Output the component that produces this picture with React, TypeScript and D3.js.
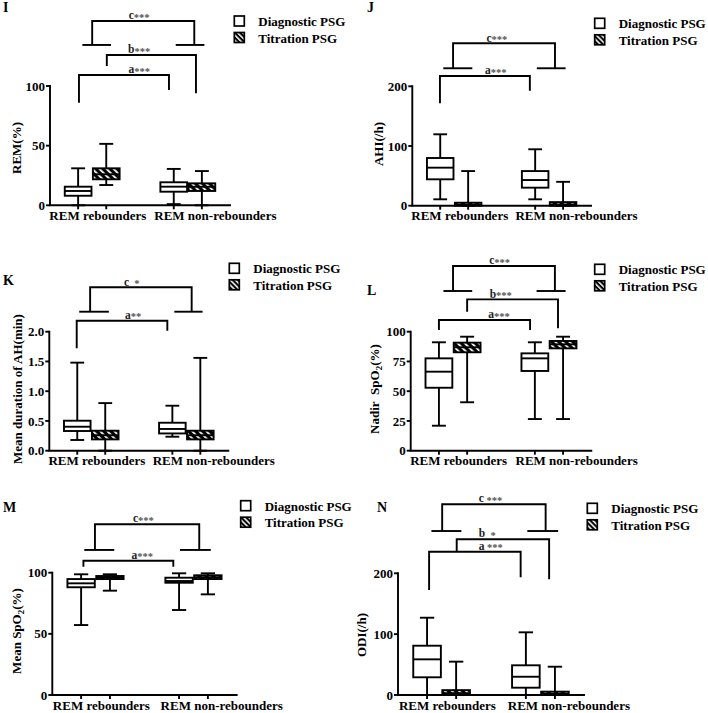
import React from "react";
import * as d3 from "d3";

// ---------- data ----------
const categories = ["REM rebounders", "REM non-rebounders"];
const seriesNames = ["Diagnostic PSG", "Titration PSG"];

// each box: [min, q1, median, q3, max]; order: Diag-reb, Titr-reb, Diag-non, Titr-non
const remStats = [
  [0, 8, 12, 15.6, 31],
  [17, 21.8, 26, 31, 51.5],
  [1, 11.4, 15.6, 19.3, 30.5],
  [0, 12, 15.5, 18.4, 28.7],
];
const ahiStats = [
  [10.7, 44.2, 63.7, 79.9, 119.6],
  [0, 0, 1.5, 5, 58],
  [10.7, 30.2, 43, 58, 94.5],
  [0, 0, 2, 6, 40],
];
const durationStats = [
  [0.18, 0.331, 0.403, 0.504, 1.48],
  [0, 0.19, 0.26, 0.336, 0.8],
  [0.235, 0.29, 0.365, 0.47, 0.756],
  [0, 0.19, 0.26, 0.336, 1.56],
];
const nadirStats = [
  [21, 52.9, 66.4, 77.6, 91.1],
  [40.7, 82.7, 86.9, 90.8, 95.8],
  [26.6, 67, 77.6, 81.8, 91.1],
  [26.6, 86, 89.4, 92.2, 95.8],
];
const meanSpo2Stats = [
  [57.2, 88.1, 91.3, 94.8, 98.7],
  [85.3, 94.8, 96, 97.3, 98.7],
  [69.5, 91.8, 93.2, 95.9, 99.5],
  [82.3, 94.8, 96.3, 97.9, 99.5],
];
const odiStats = [
  [0, 29.1, 58.6, 81, 127],
  [0, 0, 3, 8, 54.8],
  [0, 12, 30, 48.8, 103],
  [0, 0, 2, 5.5, 46.5],
];

const remTicks = [0, 50, 100];
const ahiTicks = [0, 100, 200];
const durationTicks = [0, 0.5, 1.0, 1.5, 2.0];
const nadirTicks = [0, 25, 50, 75, 100];
const meanSpo2Ticks = [0, 50, 100];
const odiTicks = [0, 100, 200];

const remSig = [["a", "***"], ["b", "***"], ["c", "***"]];
const ahiSig = [["a", "***"], ["c", "***"]];
const durationSig = [["a", "**"], ["c", "\u00A0\u00A0*"]];
const nadirSig = [["a", "***"], ["b", "***"], ["c", "***"]];
const meanSpo2Sig = [["a", "***"], ["c", "***"]];
const odiSig = [["a", "\u00A0***"], ["b", "\u00A0\u00A0*"], ["c", "\u00A0***"]];

// ---------- layout ----------
const FONT = "'Liberation Serif', 'Times New Roman', serif";
const positions = [1, 2, 4.4, 5.4];
const labelPos = [1.7, 5.88];
const BOX_W = 0.95;
const LW = 1.9;

type Bracket = {
  x1: number; x2: number; y: number; l1: number; l2: number; lx: number;
  bars?: number[][];
};

type PanelCfg = {
  ax: number; axEnd: number; y0: number; yTop: number; yMax: number;
  ticks: number[]; fmt: (v: number) => string;
  stats: number[][];
  sig: string[][];
  brackets: Bracket[];
  yLabel: React.ReactNode; ylx: number; yly: number;
  letter: string; lettx: number; letty: number;
  legX: number; legY: number;
};

const fmtInt = d3.format("d");
const fmt1 = d3.format(".1f");

function Panel({ c }: { c: PanelCfg }) {
  const x = d3.scaleLinear().domain([0, 6.4]).range([c.ax, c.axEnd]);
  const y = d3.scaleLinear().domain([0, c.yMax]).range([c.y0, c.yTop]);
  const bwPx = x(BOX_W) - x(0);
  const capW = bwPx * 0.52;
  return (
    <g>
      <text x={c.lettx} y={c.letty} fontSize={14} fontWeight="bold" fontFamily={FONT}>
        {c.letter}
      </text>
      <text
        transform={`translate(${c.ylx},${c.yly}) rotate(-90)`}
        textAnchor="middle"
        fontSize={13}
        fontWeight="bold"
        fontFamily={FONT}
      >
        {c.yLabel}
      </text>
      <path
        d={`M${c.ax},${y(c.yMax)}V${c.y0}H${c.axEnd}`}
        fill="none"
        stroke="#000"
        strokeWidth={LW}
        strokeLinecap="square"
      />
      {c.ticks.map((t) => (
        <g key={t}>
          <line x1={c.ax - 4} x2={c.ax} y1={y(t)} y2={y(t)} stroke="#000" strokeWidth={LW} />
          <text
            x={c.ax - 5}
            y={y(t)}
            dy="0.35em"
            textAnchor="end"
            fontSize={13}
            fontWeight="bold"
            fontFamily={FONT}
          >
            {c.fmt(t)}
          </text>
        </g>
      ))}
      {positions.map((p, i) => (
        <line key={i} x1={x(p)} x2={x(p)} y1={c.y0} y2={c.y0 + 4} stroke="#000" strokeWidth={LW} />
      ))}
      {categories.map((cat, i) => (
        <text
          key={cat}
          x={x(labelPos[i])}
          y={c.y0 + 14.5}
          textAnchor="middle"
          fontSize={13}
          fontWeight="bold"
          fontFamily={FONT}
        >
          {cat}
        </text>
      ))}
      {c.stats.map((s, i) => {
        const cx = x(positions[i]);
        const [mn, q1, md, q3, mx] = s;
        const hatched = i % 2 === 1;
        return (
          <g key={i}>
            <line x1={cx} x2={cx} y1={y(mn)} y2={y(q1)} stroke="#000" strokeWidth={LW} />
            <line x1={cx} x2={cx} y1={y(q3)} y2={y(mx)} stroke="#000" strokeWidth={LW} />
            <line x1={cx - capW / 2} x2={cx + capW / 2} y1={y(mn)} y2={y(mn)} stroke="#000" strokeWidth={LW} />
            <line x1={cx - capW / 2} x2={cx + capW / 2} y1={y(mx)} y2={y(mx)} stroke="#000" strokeWidth={LW} />
            <rect
              x={cx - bwPx / 2}
              y={y(q3)}
              width={bwPx}
              height={Math.max(0.5, y(q1) - y(q3))}
              fill={hatched ? "url(#hatch)" : "#fff"}
              stroke="#000"
              strokeWidth={LW}
            />
            <line x1={cx - bwPx / 2} x2={cx + bwPx / 2} y1={y(md)} y2={y(md)} stroke="#000" strokeWidth={LW} />
          </g>
        );
      })}
      {c.brackets.map((b, i) => (
        <g key={i}>
          <path
            d={`M${x(b.x1)},${y(b.l1)}V${y(b.y)}H${x(b.x2)}V${y(b.l2)}`}
            fill="none"
            stroke="#000"
            strokeWidth={LW}
          />
          {(b.bars || []).map((br, j) => (
            <line
              key={j}
              x1={x(br[0])}
              x2={x(br[1])}
              y1={y(b.l1)}
              y2={y(b.l1)}
              stroke="#000"
              strokeWidth={LW}
            />
          ))}
          <text
            x={x(b.lx)}
            y={y(b.y) - 1.8}
            textAnchor="middle"
            fontSize={11.5}
            fontWeight="bold"
            fontFamily={FONT}
          >
            <tspan fill="#222">{c.sig[i][0]}</tspan>
            <tspan fill="#555" fontSize={10.5} dy="1.5">{c.sig[i][1]}</tspan>
          </text>
        </g>
      ))}
      {seriesNames.map((n, i) => (
        <g key={n}>
          <rect
            x={c.legX}
            y={c.legY + i * 16.5}
            width={10}
            height={10}
            fill={i === 1 ? "url(#hatchL)" : "#fff"}
            stroke="#000"
            strokeWidth={1.7}
          />
          <text
            x={c.legX + 24}
            y={c.legY + i * 16.5 + 10}
            fontSize={13}
            fontWeight="bold"
            fontFamily={FONT}
          >
            {n}
          </text>
        </g>
      ))}
    </g>
  );
}

const sub2 = (pre: string) => (
  <>
    {pre}
    <tspan fontSize={9} dy="3">2</tspan>
    <tspan dy="-3">(%)</tspan>
  </>
);

const panels: PanelCfg[] = [
  {
    ax: 50, axEnd: 230, y0: 205.3, yTop: 86, yMax: 100, ticks: remTicks, fmt: fmtInt,
    stats: remStats, sig: remSig,
    brackets: [
      { x1: 1.03, x2: 4.23, y: 109.2, l1: 86, l2: 96.6, lx: 3.17 },
      { x1: 2.02, x2: 5.19, y: 126, l1: 116.8, l2: 93.9, lx: 3.17 },
      { x1: 1.5, x2: 5.13, y: 154.5, l1: 134.4, l2: 134.4, lx: 3.17, bars: [[1.15, 2.17], [4.47, 5.49]] },
    ],
    yLabel: "REM(%)", ylx: 21, yly: 148,
    letter: "I", lettx: 3, letty: 12, legX: 234.3, legY: 16,
  },
  {
    ax: 412.3, axEnd: 591, y0: 205.7, yTop: 86.3, yMax: 200, ticks: ahiTicks, fmt: fmtInt,
    stats: ahiStats, sig: ahiSig,
    brackets: [
      { x1: 0.99, x2: 4.21, y: 217.3, l1: 171.5, l2: 192.6, lx: 2.99 },
      { x1: 1.46, x2: 5.11, y: 272, l1: 230.2, l2: 230.2, lx: 3.03, bars: [[1.11, 2.15], [4.46, 5.49]] },
    ],
    yLabel: "AHI(/h)", ylx: 383, yly: 144,
    letter: "J", lettx: 367, letty: 12, legX: 594.7, legY: 18.3,
  },
  {
    ax: 49.3, axEnd: 228.3, y0: 450.7, yTop: 331.7, yMax: 2, ticks: durationTicks, fmt: fmt1,
    stats: durationStats, sig: durationSig,
    brackets: [
      { x1: 0.98, x2: 4.22, y: 2.185, l1: 1.721, l2: 2.017, lx: 3.0 },
      { x1: 1.46, x2: 5.09, y: 2.746, l1: 2.336, l2: 2.336, lx: 2.95, bars: [[1.07, 2.13], [4.47, 5.48]] },
    ],
    yLabel: "Mean duration of AH(min)", ylx: 22, yly: 389,
    letter: "K", lettx: 3, letty: 285, legX: 229.3, legY: 263.3,
  },
  {
    ax: 410.7, axEnd: 591.3, y0: 450.7, yTop: 331.7, yMax: 100, ticks: nadirTicks, fmt: fmtInt,
    stats: nadirStats, sig: nadirSig,
    brackets: [
      { x1: 1.0, x2: 4.23, y: 109.8, l1: 101.4, l2: 101.4, lx: 3.13 },
      { x1: 2.0, x2: 5.22, y: 127.2, l1: 116.8, l2: 102.9, lx: 3.19 },
      { x1: 1.5, x2: 5.11, y: 155.2, l1: 134.2, l2: 134.2, lx: 3.15, bars: [[1.16, 2.18], [4.46, 5.49]] },
    ],
    yLabel: sub2("Nadir\u00A0\u00A0SpO"), ylx: 379, yly: 389,
    letter: "L", lettx: 367, letty: 295, legX: 594.7, legY: 264.3,
  },
  {
    ax: 52.3, axEnd: 236.7, y0: 695, yTop: 572.7, yMax: 100, ticks: meanSpo2Ticks, fmt: fmtInt,
    stats: meanSpo2Stats, sig: meanSpo2Sig,
    brackets: [
      { x1: 1.08, x2: 4.2, y: 109.8, l1: 104.9, l2: 104.9, lx: 3.12 },
      { x1: 1.48, x2: 5.1, y: 139.6, l1: 118.6, l2: 118.6, lx: 3.16, bars: [[1.11, 2.15], [4.43, 5.5]] },
    ],
    yLabel: sub2("Mean SpO"), ylx: 21, yly: 631,
    letter: "M", lettx: 3, letty: 511.7, legX: 240.7, legY: 500.7,
  },
  {
    ax: 398, axEnd: 584, y0: 695, yTop: 573.3, yMax: 200, ticks: odiTicks, fmt: fmtInt,
    stats: odiStats, sig: odiSig,
    brackets: [
      { x1: 1.07, x2: 4.22, y: 235.5, l1: 172.6, l2: 193.4, lx: 3.19 },
      { x1: 2.02, x2: 5.2, y: 255.9, l1: 235.5, l2: 190.1, lx: 3.07 },
      { x1: 1.52, x2: 5.08, y: 313.4, l1: 269.5, l2: 269.5, lx: 3.18, bars: [[1.15, 2.18], [4.45, 5.51]] },
    ],
    yLabel: "ODI(/h)", ylx: 366, yly: 635,
    letter: "N", lettx: 377, letty: 511.7, legX: 587.3, legY: 503.3,
  },
];

export default function App() {
  return (
    <svg
      width={708}
      height={713}
      style={{ position: "absolute", left: 0, top: 0, background: "#fff" }}
    >
      <defs>
        <pattern id="hatch" patternUnits="userSpaceOnUse" width={5} height={5} patternTransform="rotate(-45)">
          <rect width={5} height={5} fill="#000" />
          <rect width={1.8} height={5} fill="#fff" />
        </pattern>
        <pattern id="hatchL" patternUnits="userSpaceOnUse" width={3.6} height={3.6} patternTransform="rotate(-45)">
          <rect width={3.6} height={3.6} fill="#000" />
          <rect width={1.5} height={3.6} fill="#fff" />
        </pattern>
      </defs>
      <rect width={708} height={713} fill="#fff" />
      {panels.map((c) => (
        <Panel key={c.letter} c={c} />
      ))}
    </svg>
  );
}
